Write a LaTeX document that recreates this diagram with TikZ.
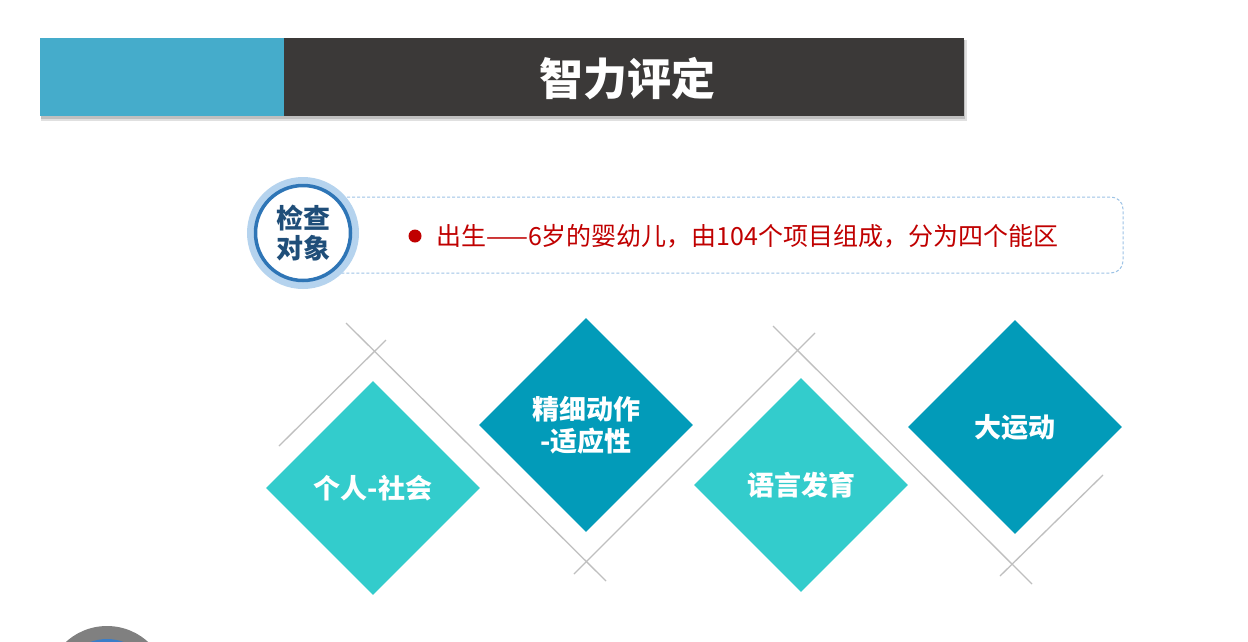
\documentclass[tikz,border=0pt]{standalone}
\usepackage{fontspec}
\setmainfont{Noto Sans CJK SC}
\usepackage{xcolor}
\usepackage{tikz}
\usetikzlibrary{shapes.geometric}
\definecolor{AzulTitulo}{RGB}{69,172,203}
\definecolor{GrisTitulo}{RGB}{59,57,56}
\definecolor{AzulAnillo}{RGB}{181,211,238}
\definecolor{AzulCirculo}{RGB}{46,117,182}
\definecolor{AzulTexto}{RGB}{31,78,121}
\definecolor{AzulRaya}{RGB}{157,195,230}
\definecolor{RojoTexto}{RGB}{192,0,0}
\definecolor{TurquesaClaro}{RGB}{51,204,204}
\definecolor{TurquesaOscuro}{RGB}{2,155,185}
\definecolor{GrisLinea}{RGB}{191,191,191}
\definecolor{AzulIcono}{RGB}{58,125,200}

\tikzset{
  rombo/.style={diamond,inner sep=0pt,minimum width=214pt,minimum height=214pt,
    align=center,text=white,font=\bfseries\fontsize{27}{32}\selectfont},
  linea/.style={GrisLinea,line width=1.3pt}
}

\begin{document}
\begin{tikzpicture}[x=1pt,y=-1pt]
  \clip (0,0) rectangle (1248,641);
  \fill[white] (0,0) rectangle (1248,641);
  \fill[black!12] (41,40) rectangle (967,121);
  \fill[black!25] (41,40) rectangle (965,119);
  \fill[AzulTitulo] (40,38) rectangle (284,116);
  \fill[GrisTitulo] (284,38) rectangle (964,116);
  \node[text=white,font=\bfseries\fontsize{44}{48}\selectfont] (titulo) at (627,79) {智力评定};

  \draw[AzulRaya,dashed,dash pattern=on 3pt off 2pt,line width=1pt,rounded corners=12pt]
    (300,197) rectangle (1123,273);
  \fill[AzulAnillo] (303,233) circle (56);
  \node[circle,draw=AzulCirculo,line width=3.5pt,fill=white,minimum size=95pt,inner sep=0pt,
    align=center,text=AzulTexto,font=\bfseries\fontsize{27}{30}\selectfont] (objeto) at (303,233) {检查\\对象};
  \fill[RojoTexto] (415,236) circle (6.5);
  \node[anchor=west,inner sep=0pt,text=RojoTexto,font=\fontsize{25}{28}\selectfont] (detalle) at (436,236)
    {出生——6岁的婴幼儿，由104个项目组成，分为四个能区};

  \coordinate (L1a) at (346,323); \coordinate (L1b) at (606,581);
  \coordinate (L2a) at (386,340); \coordinate (L2b) at (279,446);
  \coordinate (L3a) at (574,574); \coordinate (L3b) at (815,333);
  \coordinate (L4a) at (773,326); \coordinate (L4b) at (1032,584);
  \coordinate (L5a) at (1000,576); \coordinate (L5b) at (1103,475);
  \draw[linea] (L1a) -- (L1b);
  \draw[linea] (L2a) -- (L2b);
  \draw[linea] (L3a) -- (L3b);
  \draw[linea] (L4a) -- (L4b);
  \draw[linea] (L5a) -- (L5b);

  \node[rombo,fill=TurquesaClaro] (social) at (373,488) {个人-社会};
  \node[rombo,fill=TurquesaOscuro] (fino) at (586,425) {精细动作\\-适应性};
  \node[rombo,fill=TurquesaClaro] (lenguaje) at (801,485) {语言发育};
  \node[rombo,fill=TurquesaOscuro] (grueso) at (1015,427) {大运动};

  \fill[gray] (107,687) circle (61);
  \fill[AzulIcono] (107,687) circle (48);
\end{tikzpicture}
\end{document}
